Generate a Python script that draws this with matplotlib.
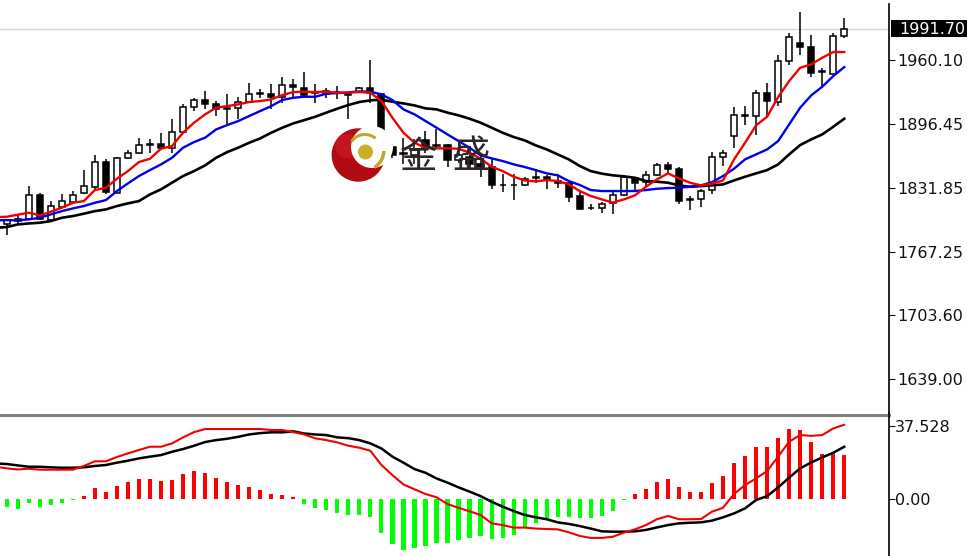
import numpy as np
import matplotlib
matplotlib.use("Agg")
import matplotlib.pyplot as plt
from matplotlib.patches import Circle, Rectangle, Wedge

opens = [1795.7,1800.1,1800.1,1824.6,1799.4,1812.8,1817.8,1826.2,1832.9,1858.1,1826.9,1861.8,1866.5,1875.2,1875.9,1872.2,1888.3,1913.5,1920.2,1916.5,1912.5,1912.1,1918.5,1926.2,1926.5,1923.5,1934.9,1932.6,1927.6,
         1926.2,1927.9,1925.2,1928.3,1932.3,1926.6,1873.2,1865.9,1864.5,1879.9,1874.6,1875.2,1860.1,1863.2,1855.5,1853.1,1834.3,1835.0,1834.3,1842.0,1843.0,1838.3,1837.0,1823.6,1811.2,1811.5,1816.2,1824.6,1842.0,
         1837.6,1844.7,1855.1,1851.1,1819.9,1820.2,1829.3,1862.8,1883.6,1904.4,1904.1,1926.9,1918.5,1959.8,1977.9,1973.9,1949.4,1946.7,1984.6]
highs = [1800.7,1804.1,1833.6,1826.9,1818.5,1825.2,1828.6,1850.1,1864.8,1861.1,1862.8,1869.5,1881.6,1881.3,1886.6,1901.4,1916.5,1922.5,1929.2,1919.2,1926.5,1923.5,1937.6,1931.6,1936.6,1943.3,1941.0,1948.7,1935.9,
         1932.6,1934.3,1926.6,1933.3,1960.1,1927.6,1875.6,1882.3,1880.6,1889.0,1890.7,1876.3,1868.9,1873.9,1863.8,1860.5,1845.4,1845.4,1843.0,1848.7,1844.4,1845.4,1838.3,1828.6,1815.2,1817.5,1828.6,1844.4,1843.0,
         1848.7,1857.1,1858.1,1853.1,1823.6,1830.9,1868.2,1869.9,1913.5,1914.1,1930.2,1937.0,1965.1,1987.9,2009.1,1985.6,1952.1,1987.9,2003.0]
lows = [1784.3,1795.0,1799.4,1799.1,1798.7,1811.1,1816.8,1825.2,1828.6,1825.2,1826.2,1860.4,1865.8,1867.2,1870.5,1866.5,1888.0,1909.1,1910.8,1904.1,1895.7,1900.7,1917.5,1922.5,1910.8,1917.5,1923.5,1922.5,1917.5,
        1922.6,1920.9,1901.4,1927.6,1917.5,1868.9,1861.5,1855.5,1855.5,1867.2,1870.5,1853.1,1857.1,1852.1,1843.0,1831.0,1827.9,1819.2,1833.6,1837.0,1830.3,1831.3,1817.5,1809.2,1809.2,1806.8,1805.1,1823.6,1828.6,
        1833.6,1843.7,1846.0,1815.2,1809.5,1812.8,1825.2,1853.7,1871.5,1895.0,1885.0,1904.1,1914.1,1955.4,1965.1,1943.7,1934.3,1946.0,1982.2]
closes = [1799.1,1798.0,1824.6,1800.7,1813.5,1818.5,1824.6,1833.3,1858.1,1827.6,1862.1,1866.8,1874.5,1876.2,1871.9,1888.3,1913.5,1920.5,1916.5,1911.4,1911.4,1918.5,1926.5,1926.9,1923.2,1934.9,1932.9,1925.5,1928.6,
          1929.6,1928.6,1925.9,1932.3,1927.6,1872.2,1865.2,1866.5,1869.5,1872.2,1873.6,1859.8,1864.5,1855.5,1853.1,1834.3,1835.0,1834.3,1841.0,1843.0,1840.4,1836.3,1822.9,1810.2,1811.8,1815.9,1824.6,1842.7,1837.0,
          1844.7,1855.1,1850.4,1818.5,1820.9,1828.6,1863.1,1867.2,1905.1,1905.4,1927.2,1919.2,1959.8,1983.6,1973.5,1947.7,1948.4,1984.6,1991.7]

# moving averages, first value is the bar just off the left edge
ma_red = [1802.4,1802.7,1804.8,1806.8,1804.1,1807.8,1811.8,1816.8,1818.5,1829.6,1831.9,1841.0,1848.7,1857.8,1861.1,1871.2,1873.9,1887.3,1897.4,1905.7,1912.5,1914.1,1915.8,1918.2,1919.2,1920.8,1925.2,1928.2,1928.6,1928.2,
          1928.6,1927.6,1927.6,1928.3,1927.6,1919.2,1902.4,1887.3,1877.3,1871.9,1871.6,1871.6,1871.2,1867.2,1861.2,1853.1,1848.7,1843.0,1839.3,1838.3,1839.7,1838.7,1835.3,1828.6,1823.6,1820.2,1816.9,1820.2,1824.2,
          1832.9,1840.3,1846.4,1841.3,1837.0,1834.3,1836.0,1839.3,1860.5,1877.2,1894.7,1903.4,1923.2,1939.3,1952.7,1956.1,1962.8,1968.5,1968.5]
ma_blue = [1799.1,1799.4,1799.1,1800.1,1801.7,1805.1,1808.4,1811.1,1813.5,1816.8,1819.5,1828.6,1836.3,1843.7,1849.7,1855.4,1862.1,1872.2,1877.9,1882.3,1890.6,1895.0,1899.0,1904.1,1909.1,1914.1,1920.2,1922.5,1923.5,1923.5,
           1926.6,1927.2,1927.9,1928.9,1928.6,1925.9,1920.2,1910.8,1905.8,1899.1,1892.4,1885.6,1878.9,1872.2,1864.5,1861.5,1858.8,1855.5,1852.8,1849.7,1846.4,1844.4,1838.7,1834.7,1829.6,1828.6,1828.6,1828.6,1828.6,
           1829.6,1830.9,1831.6,1831.9,1832.9,1834.3,1837.6,1843.7,1851.1,1860.5,1865.5,1870.5,1878.9,1895.7,1912.5,1924.9,1933.6,1944.3,1953.4]
ma_black = [1791.7,1792.3,1795.0,1796.0,1796.7,1798.4,1801.7,1803.4,1805.8,1808.4,1810.1,1813.5,1816.2,1818.5,1825.2,1830.3,1837.0,1843.7,1848.7,1854.4,1862.1,1867.8,1872.2,1877.2,1881.6,1887.3,1892.3,1896.7,1900.0,1903.4,
            1907.5,1911.5,1915.2,1918.2,1919.9,1920.5,1918.5,1916.8,1914.8,1911.8,1910.8,1907.5,1904.8,1901.4,1897.4,1892.4,1887.3,1883.0,1879.6,1874.6,1870.5,1865.5,1860.5,1853.8,1848.7,1846.1,1844.4,1843.4,1842.0,
            1838.7,1838.0,1837.0,1834.3,1832.9,1833.6,1834.3,1835.3,1839.3,1843.0,1846.4,1849.7,1855.4,1865.5,1874.9,1880.6,1885.6,1893.3,1901.4]

macd_hist = [-3.9,-5.1,-1.9,-3.9,-3.1,-1.9,-0.7,1.4,5.5,3.6,6.5,8.6,10.1,10.1,9.1,9.8,12.7,14.6,13.5,11.0,8.6,7.0,6.0,4.6,2.6,2.1,0.9,-2.6,-4.6,
             -5.7,-7.0,-8.1,-8.2,-9.1,-17.6,-23.1,-26.2,-25.2,-24.2,-22.8,-22.4,-21.1,-19.9,-19.0,-20.6,-20.2,-18.5,-15.1,-12.5,-10.8,-9.1,-9.1,-9.9,-9.9,-8.6,-6.0,-0.7,
             2.6,5.0,8.6,10.1,6.0,3.6,3.6,8.1,11.6,18.7,22.1,26.7,26.7,31.3,35.8,35.3,29.3,23.1,23.5,22.6]
macd_red = [16.6,15.8,15.2,15.6,15.1,15.1,15.1,15.1,17.0,19.4,19.4,21.6,23.5,25.2,26.9,26.9,28.6,31.7,34.4,36.0,36.0,36.0,36.0,36.0,36.0,35.5,35.5,34.4,33.2,31.2,
            30.3,29.1,27.4,26.4,24.8,17.5,12.3,7.5,5.0,2.6,0.9,-2.6,-4.5,-6.3,-8.2,-12.5,-13.4,-14.7,-14.7,-15.2,-15.4,-15.6,-17.1,-19.0,-20.0,-20.0,-19.4,-17.3,-15.6,
            -13.4,-10.4,-8.7,-10.4,-10.4,-10.3,-6.5,-4.5,2.6,7.2,10.6,14.4,21.8,29.5,32.9,32.5,32.9,36.3,38.2]
macd_black = [18.3,18.0,17.3,16.6,16.6,16.3,16.1,16.1,16.3,17.0,17.5,18.7,19.7,20.9,21.8,22.6,24.3,25.7,27.4,29.3,30.3,31.0,32.0,33.2,33.9,34.3,34.3,34.8,33.7,33.2,
              32.9,31.7,31.3,30.3,28.6,26.0,21.8,18.7,15.4,13.5,10.6,8.4,6.0,3.8,1.5,-1.4,-3.9,-6.2,-8.2,-9.4,-10.4,-12.0,-12.8,-13.9,-15.2,-16.6,-16.8,-16.8,-16.6,
              -15.9,-14.6,-13.4,-12.5,-12.2,-12.0,-11.1,-9.4,-7.4,-4.8,-0.5,1.5,6.0,11.0,15.8,18.8,21.4,23.8,26.9]

price_ticks = [1960.10, 1896.45, 1831.85, 1767.25, 1703.60, 1639.00]
macd_ticks = [37.528, 0.0]
macd_labels = ["37.528", "0.00"]
last_price = 1991.70

W, H = 967, 556
fig = plt.figure(figsize=(W / 100, H / 100), dpi=100)
plt.rcParams['font.family'] = ['DejaVu Sans', 'Noto Sans CJK SC']

ax = fig.add_axes([0, 1 - 413 / H, 889 / W, 413 / H])
ax2 = fig.add_axes([0, 0, 889 / W, (H - 416) / H])

x = np.arange(len(closes))
x_ma = np.arange(-1, len(closes))
o, h, l, c = map(np.array, (opens, highs, lows, closes))

ax.axhline(last_price, color='#d4d4d4', lw=1.0, zorder=0)
ax.vlines(x, l, h, color='black', lw=1.1, zorder=1)
ax.bar(x, np.abs(c - o), bottom=np.minimum(o, c), width=0.56,
       color=['white' if cc >= oo else 'black' for oo, cc in zip(o, c)],
       edgecolor='black', linewidth=1.1, zorder=2)
ax.plot(x_ma, ma_black, color='black', lw=1.9, zorder=3)
ax.plot(x_ma, ma_blue, color='#0000e6', lw=1.7, zorder=4)
ax.plot(x_ma, ma_red, color='#f00000', lw=1.7, zorder=5)

ax.set_xlim(-0.608, 80.06)
ax.set_ylim(1605.2, 2020.9)
ax.set_xticks([])
ax.yaxis.tick_right()
ax.set_yticks(price_ticks)
ax.set_yticklabels(["%.2f" % t for t in price_ticks])
ax.tick_params(axis='y', length=4, width=0.8, pad=2, labelsize=11.5, colors='#111111')
for s in ['top', 'left', 'bottom']:
    ax.spines[s].set_visible(False)
ax.spines['right'].set_bounds(1605.2, 2016.9)
ax.spines['right'].set_linewidth(1.2)

hist = np.array(macd_hist)
ax2.bar(x, hist, width=0.38, color=np.where(hist >= 0, '#ff0000', '#00ff00'), zorder=1)
ax2.plot(x_ma, macd_black, color='black', lw=1.8, zorder=2)
ax2.plot(x_ma, macd_red, color='#f00000', lw=1.5, zorder=3)
ax2.set_xlim(-0.608, 80.06)
ax2.set_ylim(-29.3, 42.7)
ax2.set_xticks([])
ax2.yaxis.tick_right()
ax2.set_yticks(macd_ticks)
ax2.set_yticklabels(macd_labels)
ax2.tick_params(axis='y', length=4, width=0.8, pad=0, labelsize=11.5, colors='#111111')
for s in ['top', 'left', 'bottom']:
    ax2.spines[s].set_visible(False)
ax2.spines['right'].set_linewidth(1.2)

# overlay in pixel coordinates: separator, price tag, watermark
ov = fig.add_axes([0, 0, 1, 1])
ov.set_xlim(0, W)
ov.set_ylim(H, 0)
ov.axis('off')
ov.patch.set_alpha(0)

ov.plot([0, 889], [414.5, 414.5], color='#808080', lw=2.2)
ov.plot([889, 889], [413, 417], color='black', lw=1.2)
ov.add_patch(Rectangle((891, 20), 76, 17, color='black', lw=0))
ov.text(899, 29, "1991.70", color='white', fontsize=11.5, va='center', ha='left', clip_on=True)

# logo
ov.add_patch(Circle((358.3, 155), 26.7, color='#b00c10', lw=0))
ov.add_patch(Circle((347, 146), 12, color='#d8222a', lw=0, alpha=0.5))
ov.add_patch(Circle((372, 147), 21, color='white', lw=0))
ov.add_patch(Wedge((365, 151), 18, 215, 310, width=3, color='#c4a62c', lw=0))
ov.add_patch(Wedge((365, 151), 20.5, 0, 60, width=3.5, color='#c4a62c', lw=0))
ov.add_patch(Circle((365.5, 152), 7.5, color='#c9ad2b', lw=0))

ov.text(419, 157, "金", color='#2e2626', fontsize=27, ha='center', va='center',
        family=['Noto Sans CJK SC', 'DejaVu Sans'])
ov.text(471, 157, "盛", color='#2e2626', fontsize=27, ha='center', va='center',
        family=['Noto Sans CJK SC', 'DejaVu Sans'])

fig.savefig("out.png", dpi=100, facecolor='white')
